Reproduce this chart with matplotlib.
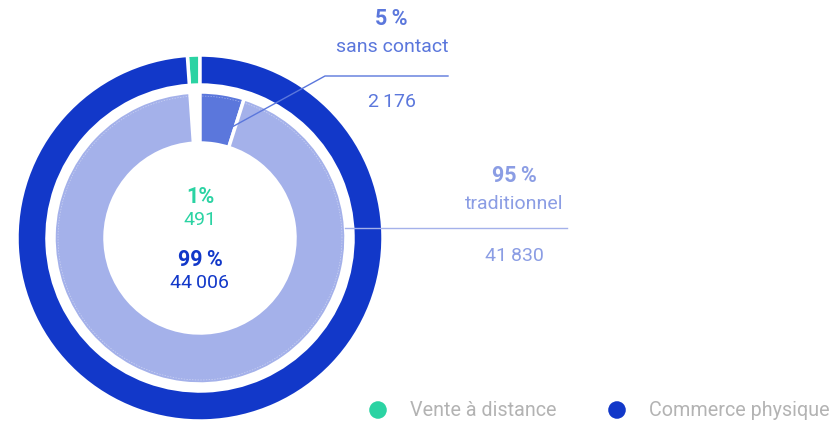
import numpy as np
import matplotlib.pyplot as plt

# data
outer_labels = ['Vente à distance', 'Commerce physique']
outer_values = [491, 44006]
outer_pct = ['1%', '99\u2009%']
outer_counts = ['491', '44\u2009006']

inner_labels = ['sans contact', 'traditionnel']
inner_values = [2176, 41830]
inner_pct = ['5\u2009%', '95\u2009%']
inner_counts = ['2\u2009176', '41\u2009830']

c_green = '#2bd3a3'
c_blue = '#1238c9'
c_sans = '#5b77dc'
c_trad = '#a4b1ea'
c_grey = '#b3b3b3'

plt.rcParams['font.family'] = ['Roboto', 'DejaVu Sans']

W, H = 836, 422
fig = plt.figure(figsize=(W / 100, H / 100), dpi=100)
ax = fig.add_axes([0, 0, 1, 1])

cx, cy = 200, H - 238

# outer ring: green starts at the top, going counterclockwise
ax.pie(outer_values, radius=183, center=(cx, cy), startangle=90, counterclock=True,
       colors=[c_green, c_blue],
       wedgeprops=dict(width=30, edgecolor='white', linewidth=2.5))

# inner ring: commerce physique split, leaving an empty slot for vente a distance
w_in, _ = ax.pie(inner_values + [outer_values[0]], radius=146, center=(cx, cy),
                 startangle=90, counterclock=False,
                 colors=[c_sans, c_trad, 'white'],
                 wedgeprops=dict(width=51, edgecolor='white', linewidth=2.5))
w_in[2].set_visible(False)

th = np.linspace(0, 2 * np.pi, 400)
ax.plot(cx + 142 * np.cos(th), cy + 142 * np.sin(th), color='white', lw=0.5,
        ls=(0, (2, 2)), alpha=0.45)

ax.set_xlim(0, W)
ax.set_ylim(0, H)
ax.set_aspect('equal')
ax.axis('off')

# leader lines
ax.plot([232, 325, 448], [H - 127, H - 76, H - 76], color=c_sans, lw=1)
ax.plot([345, 567], [H - 228, H - 228], color=c_trad, lw=1)

fs = 14
fb = 15.5
# sans contact label
ax.text(391, H - 19, inner_pct[0], color=c_sans, fontsize=fb, fontweight='bold',
        ha='center', va='center')
ax.text(392, H - 47, inner_labels[0], color=c_sans, fontsize=fs, ha='center', va='center')
ax.text(392, H - 102, inner_counts[0], color=c_sans, fontsize=fs, ha='center', va='center')

# traditionnel label
ax.text(514, H - 176, inner_pct[1], color='#8b9de4', fontsize=fb, fontweight='bold',
        ha='center', va='center')
ax.text(514, H - 204, inner_labels[1], color='#8b9de4', fontsize=fs, ha='center', va='center')
ax.text(514, H - 256, inner_counts[1], color='#8b9de4', fontsize=fs, ha='center', va='center')

# centre labels
ax.text(cx, H - 197, outer_pct[0], color=c_green, fontsize=fb, fontweight='bold',
        ha='center', va='center')
ax.text(cx, H - 220, outer_counts[0], color=c_green, fontsize=fs, ha='center', va='center')
ax.text(cx, H - 260, outer_pct[1], color=c_blue, fontsize=fb, fontweight='bold',
        ha='center', va='center')
ax.text(cx, H - 283, outer_counts[1], color=c_blue, fontsize=fs, ha='center', va='center')

# legend
for x, col, lab in [(378, c_green, outer_labels[0]), (617, c_blue, outer_labels[1])]:
    ax.scatter([x], [H - 410], s=160, color=col, edgecolors='none')
    ax.text(x + 32, H - 410, lab, color=c_grey, fontsize=14.2, ha='left', va='center')

fig.savefig('out.png', dpi=100)
